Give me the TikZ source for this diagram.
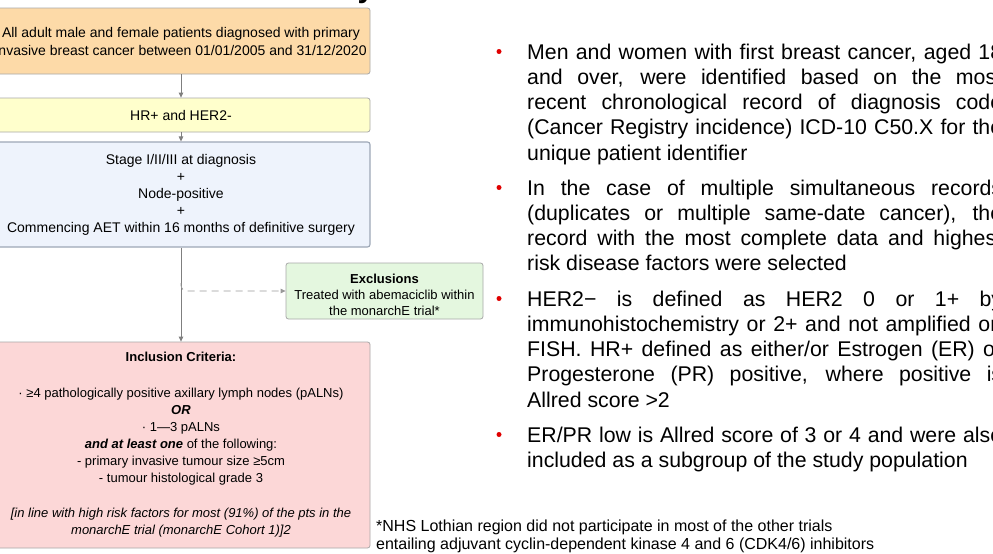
\documentclass[tikz,border=0pt]{standalone}
\usepackage{fontspec}
\setmainfont{Liberation Sans}
\usepackage{xcolor}
\definecolor{PeachFill}{HTML}{FDDAA8}
\definecolor{LemonFill}{HTML}{FFFFCC}
\definecolor{SkyFill}{HTML}{EEF3FC}
\definecolor{SkyBorder}{HTML}{9DA7B6}
\definecolor{MintFill}{HTML}{E4F7DF}
\definecolor{RoseFill}{HTML}{FCD7D7}
\definecolor{BoxBorder}{HTML}{A8A8A8}
\definecolor{LineGray}{HTML}{7F7F7F}
\definecolor{BulletRed}{HTML}{E00000}
\usetikzlibrary{arrows.meta, positioning, calc}

\begin{document}
\begin{tikzpicture}[
  x=1pt, y=-1pt,
  % base styles
  flowbox/.style={
    draw=BoxBorder,
    fill=#1,
    rounded corners=2.5pt,
    line width=0.8pt,
    minimum width=378pt,
    inner sep=0pt,
    align=center,
    font=\fontsize{14}{17}\selectfont
  },
  flowbox/.default=white,
  flowarrow/.style={
    draw=LineGray,
    line width=0.8pt,
    -{Triangle[length=5pt, width=4.5pt]}
  },
  dasharrow/.style={
    draw=LineGray!80,
    line width=0.8pt,
    dash pattern=on 7pt off 5pt,
    -{Triangle[length=5pt, width=4.5pt]}
  },
  bullettext/.style={
    anchor=base west,
    text width=475pt,
    align=justify,
    inner sep=0pt,
    font=\fontsize{21.3}{25.3}\selectfont
  },
  reddot/.style={
    circle,
    fill=BulletRed,
    inner sep=0pt,
    minimum size=5pt
  },
  notetext/.style={
    anchor=base west,
    align=left,
    inner sep=0pt,
    font=\fontsize{16}{18}\selectfont
  }
]

% =============================================================================
% FRAME
% =============================================================================
\useasboundingbox (0,0) rectangle (993,554);
\clip (0,0) rectangle (993,554);
\fill[white] (0,0) rectangle (993,554);

% title, cut off at the top edge
\node[anchor=base, inner sep=0pt, font=\fontsize{30}{30}\selectfont\bfseries] (ttl) at (366,-2) {y};

% =============================================================================
% LEFT SIDE: FLOW CHART
% =============================================================================
\node[flowbox=PeachFill, minimum height=66pt, font=\fontsize{14}{18}\selectfont] (allpts) at (181,41) {
  All adult male and female patients diagnosed with primary\\
  invasive breast cancer between 01/01/2005 and 31/12/2020};

\node[flowbox=LemonFill, minimum height=34pt] (hrher) at (181,115) {HR+ and HER2-};

\node[flowbox=SkyFill, draw=SkyBorder, line width=1.1pt, minimum height=105pt] (stage) at (181,194.5) {
  Stage I/II/III at diagnosis\\
  +\\
  Node-positive\\
  +\\
  Commencing AET within 16 months of definitive surgery};

% Exclusions
\node[flowbox=MintFill, minimum width=197pt, minimum height=56pt,
      font=\fontsize{13}{16}\selectfont] (excl) at (384.5,291) {
  \mbox{}\\[2pt]
  \textbf{Exclusions}\\
  Treated with abemaciclib within\\
  the monarchE trial*};

% Inclusion criteria
\node[flowbox=RoseFill, minimum height=206pt, font=\fontsize{13}{17}\selectfont] (incl) at (181,445) {
  \textbf{Inclusion Criteria:}\\[19pt]
  · ≥4 pathologically positive axillary lymph nodes (pALNs)\\
  \textbf{\textit{OR}}\\
  · 1—3 pALNs\\
  \textbf{\textit{and at least one}} of the following:\\
  - primary invasive tumour size ≥5cm\\
  - tumour histological grade 3\\[18pt]
  \textit{[in line with high risk factors for most (91\%) of the pts in the}\\
  \textit{monarchE trial (monarchE Cohort 1)]2}};

% connectors
\draw[flowarrow] (allpts.south) -- (hrher.north);
\draw[flowarrow] (hrher.south) -- (stage.north);
\draw[flowarrow] (stage.south) -- (incl.north);
\coordinate (split) at ($(stage.south |- excl.west)+(0,-8)$);
\draw[dasharrow, rounded corners=6pt] (split) |- (excl.west);

% =============================================================================
% RIGHT SIDE: NOTES
% =============================================================================
\node[bullettext] (pt1) at (527,59) {Men and women with first breast cancer, aged 18\linebreak
  and over, were identified based on the most\linebreak
  recent chronological record of diagnosis code\linebreak
  (Cancer Registry incidence) ICD-10 C50.X for the\linebreak
  unique patient identifier};
\node[bullettext] (pt2) at (527,195) {In the case of multiple simultaneous records\linebreak
  (duplicates or multiple same-date cancer), the\linebreak
  record with the most complete data and highest\linebreak
  risk disease factors were selected};
\node[bullettext] (pt3) at (527,306) {HER2− is defined as HER2 0 or 1+ by\linebreak
  immunohistochemistry or 2+ and not amplified on\linebreak
  FISH. HR+ defined as either/or Estrogen (ER) or\linebreak
  Progesterone (PR) positive, where positive is\linebreak
  Allred score >2};
\node[bullettext] (pt4) at (527,442) {ER/PR low is Allred score of 3 or 4 and were also\linebreak
  included as a subgroup of the study population};

% red bullets
\foreach \i/\yy in {1/59, 2/195, 3/306, 4/442} {
  \node[reddot] (dot\i) at (499,\yy-7.5) {};
}

% footnote
\node[notetext] (note) at (376,549) {*NHS Lothian region did not participate in most of the other trials\\
  entailing adjuvant cyclin-dependent kinase 4 and 6 (CDK4/6) inhibitors};

\end{tikzpicture}
\end{document}
